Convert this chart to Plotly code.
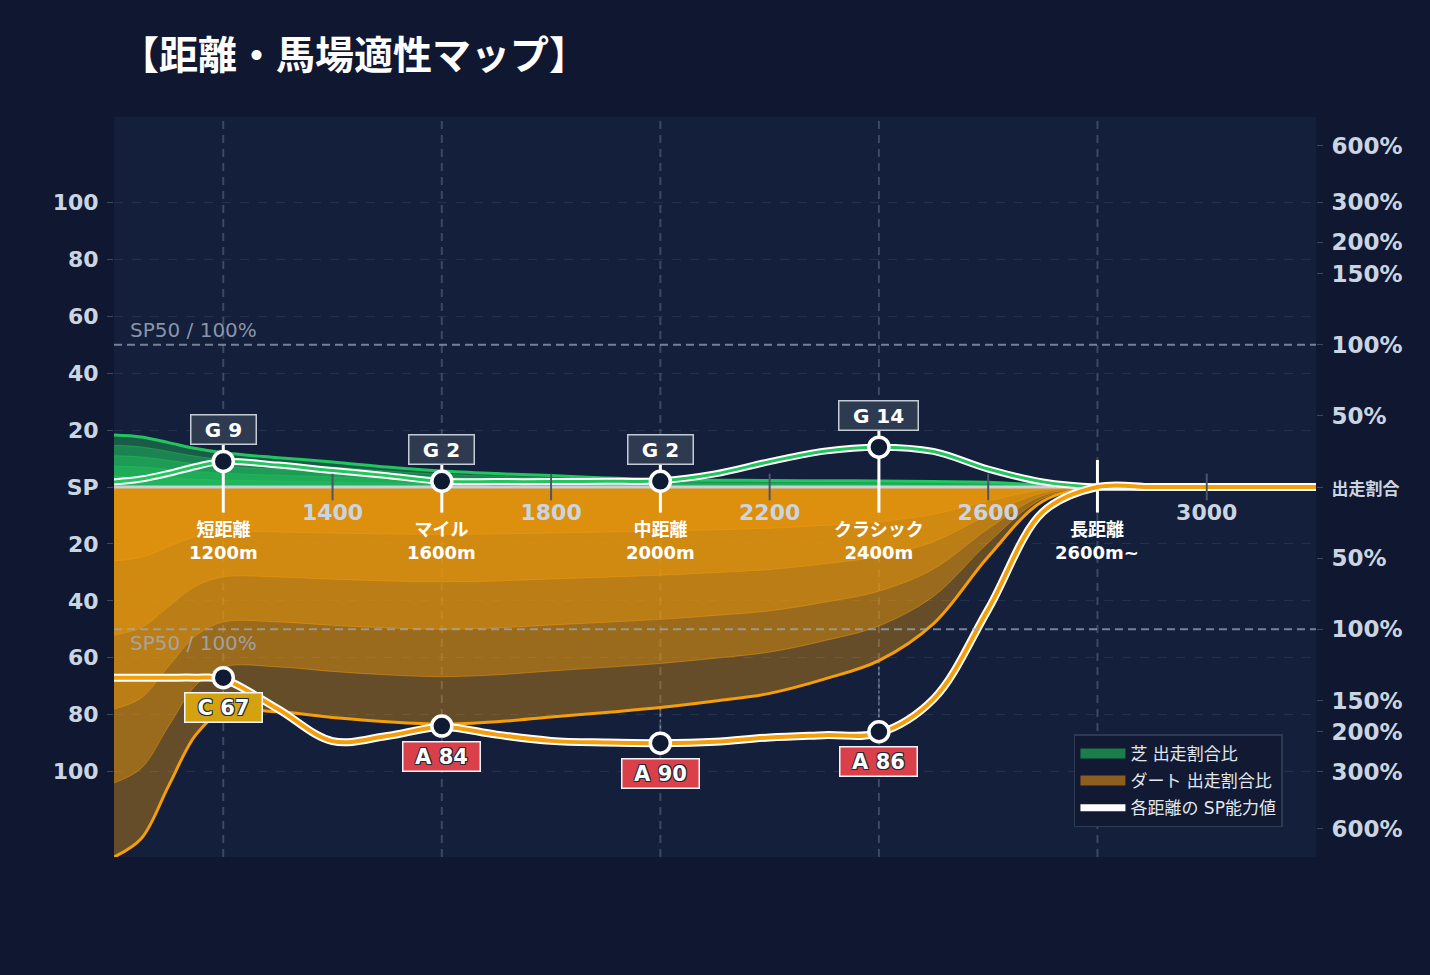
import plotly.graph_objects as go

# 距離 (m)
dist = [1000, 1050, 1100, 1150, 1200, 1300, 1400, 1500, 1600, 1700, 1800, 1900, 2000,
        2100, 2200, 2300, 2400, 2500, 2600, 2700, 2800, 2900, 3000, 3100, 3200]

# 出走割合比 (チャート単位) 芝は上側、ダートは下側
turf_share = [18.3, 17.6, 15.6, 13.5, 12.0, 10.3, 8.8, 7.0, 5.6, 4.7, 4.0, 3.2, 2.6,
              2.4, 2.3, 2.2, 2.1, 1.9, 1.7, 0.6, 0, 0, 0, 0, 0]
dirt_share = [130, 123.5, 105, 87, 79, 79, 81, 82.5, 83.3, 82.5, 80.8, 79.2, 77.5,
              75.2, 72.5, 67.5, 61, 48, 24.5, 5, 0, 0, 0, 0, 0]

# 各距離の SP能力値
turf_sp = [1.8, 2.8, 4.8, 7.2, 9, 7.7, 5.8, 4.0, 2.0, 1.9, 1.9, 2.0, 2.2,
           4.6, 8.9, 12.6, 14, 12.5, 6.3, 1.8, 0, 0, 0, 0, 0]
dirt_sp = [67, 67, 67, 67, 67.5, 78, 89.3, 87.5, 84.3, 87, 89.2, 89.8, 90,
           89.5, 88, 87.2, 86.5, 74.5, 43, 8.8, 0, 0, 0, 0, 0]

# 距離カテゴリ
zone_dist = [1200, 1600, 2000, 2400, 2800]
zone_name = ["短距離", "マイル", "中距離", "クラシック", "長距離"]
zone_label = ["1200m", "1600m", "2000m", "2400m", "2600m~"]

# カテゴリ毎の評価
turf_grade = ["G", "G", "G", "G"]
turf_point = [9, 2, 2, 14]
dirt_grade = ["C", "A", "A", "A"]
dirt_point = [67, 84, 90, 86]

# 軸
x_ticks = [1400, 1800, 2200, 2600, 3000]
sp_ticks = [100, 80, 60, 40, 20]
share_pos = [120, 100, 86, 75, 50, 25]
share_text = ["600%", "300%", "200%", "150%", "100%", "50%"]

FONT = "DejaVu Sans, Noto Sans CJK JP, sans-serif"
PAPER = "#0f1830"
PLOT_BG = "#131f3b"
GREEN = "#22c55e"
ORANGE = "#f59e0b"
GRADE_COLORS = {"G": "#2e3a50", "C": "#d4a20e", "A": "#d9404a"}
N_LAYERS = 5

fig = go.Figure()

# ダート 出走割合 (下側, 重ね塗り)
for k in range(1, N_LAYERS + 1):
    outer = k == N_LAYERS
    fig.add_trace(go.Scatter(
        x=dist, y=[-v * k / N_LAYERS for v in dirt_share],
        mode="lines", line=dict(shape="spline", width=3 if outer else 1,
                                color=ORANGE if outer else "rgba(245,158,11,0.45)"),
        fill="tozeroy", fillcolor="rgba(245,158,11,0.37)",
        showlegend=False, hoverinfo="skip"))

# 芝 出走割合 (上側)
for k in range(1, N_LAYERS + 1):
    outer = k == N_LAYERS
    fig.add_trace(go.Scatter(
        x=dist, y=[v * k / N_LAYERS for v in turf_share],
        mode="lines", line=dict(shape="spline", width=3 if outer else 1,
                                color=GREEN if outer else "rgba(34,197,94,0.45)"),
        fill="tozeroy", fillcolor="rgba(34,197,94,0.37)",
        showlegend=False, hoverinfo="skip"))

# 凡例用
fig.add_trace(go.Scatter(x=[None], y=[None], mode="lines", name="芝 出走割合比",
                         line=dict(color="#1b7d4c", width=14),
                         legendgroup="turf", legendrank=1))
fig.add_trace(go.Scatter(x=[None], y=[None], mode="lines", name="ダート 出走割合比",
                         line=dict(color="#8d5e1d", width=14),
                         legendgroup="dirt", legendrank=2))

# 基準線
fig.add_trace(go.Scatter(x=dist, y=[0] * len(dist), mode="lines",
                         line=dict(color="#c8d0dc", width=3),
                         showlegend=False, hoverinfo="skip"))

# ダート: 割合から SP点への点線
drop_x, drop_y = [], []
for d, p in zip(zone_dist, dirt_point):
    share = dirt_share[dist.index(d)]
    drop_x += [d, d, None]
    drop_y += [-share, -p, None]
fig.add_trace(go.Scatter(x=drop_x, y=drop_y, mode="lines",
                         line=dict(color="rgba(160,172,190,0.6)", width=1.5, dash="dot"),
                         showlegend=False, hoverinfo="skip"))

# x軸の目盛り (基準線上)
fig.add_trace(go.Scatter(x=x_ticks, y=[0] * len(x_ticks), mode="markers", yaxis="y2",
                         marker=dict(symbol="line-ns", size=19,
                                     line=dict(width=2, color="#4b5568")),
                         showlegend=False, hoverinfo="skip"))

# カテゴリの縦棒
stem_x, stem_y = [], []
for i, d in enumerate(zone_dist):
    top = turf_point[i] if i < len(turf_point) else 0
    stem_x += [d, d, None]
    stem_y += [top + 9.5, -9, None]
fig.add_trace(go.Scatter(x=stem_x, y=stem_y, mode="lines",
                         line=dict(color="white", width=3),
                         showlegend=False, hoverinfo="skip"))

# SP能力値ライン
fig.add_trace(go.Scatter(x=dist, y=turf_sp, mode="lines",
                         line=dict(shape="spline", color="white", width=7),
                         name="各距離の SP能力値", legendgroup="sp", legendrank=3,
                         hoverinfo="skip"))
fig.add_trace(go.Scatter(x=dist, y=turf_sp, mode="lines",
                         line=dict(shape="spline", color=GREEN, width=3),
                         showlegend=False, hoverinfo="skip"))
fig.add_trace(go.Scatter(x=dist, y=[-v for v in dirt_sp], mode="lines",
                         line=dict(shape="spline", color="white", width=8),
                         showlegend=False, hoverinfo="skip"))
fig.add_trace(go.Scatter(x=dist, y=[-v for v in dirt_sp], mode="lines",
                         line=dict(shape="spline", color=ORANGE, width=4),
                         showlegend=False, hoverinfo="skip"))

# 評価ポイント
point_marker = dict(size=20, color="#0f1a33", line=dict(color="white", width=3.5))
fig.add_trace(go.Scatter(x=zone_dist[:4], y=turf_point, mode="markers",
                         marker=point_marker, showlegend=False, hoverinfo="skip"))
fig.add_trace(go.Scatter(x=zone_dist[:4], y=[-v for v in dirt_point], mode="markers",
                         marker=point_marker, showlegend=False, hoverinfo="skip"))

# 評価ラベル
outline = ("1px 1px 0 #1e293b, -1px -1px 0 #1e293b, "
           "1px -1px 0 #1e293b, -1px 1px 0 #1e293b")
for d, g, v in zip(zone_dist, turf_grade, turf_point):
    text = f"{g} {v}"
    fig.add_annotation(x=d, y=v, yshift=32, text=f"<b>{text}</b>", showarrow=False,
                       font=dict(family=FONT, size=20, color="white"),
                       bgcolor=GRADE_COLORS[g], bordercolor="#c3cbd6", borderwidth=1.5,
                       width=14 * len(text) + 20, height=26)
for d, g, v in zip(zone_dist, dirt_grade, dirt_point):
    text = f"{g} {v}"
    fig.add_annotation(x=d, y=-v, yshift=-30, text=f"<b>{text}</b>", showarrow=False,
                       font=dict(family=FONT, size=21, color="white", shadow=outline),
                       bgcolor=GRADE_COLORS[g], bordercolor="#f1f5f9", borderwidth=1.5,
                       width=14 * len(text) + 18, height=26)

# カテゴリ名
for d, n, l in zip(zone_dist, zone_name, zone_label):
    fig.add_annotation(x=d, y=0, yshift=-54, text=f"<b>{n}</b><br><b>{l}</b>",
                       showarrow=False, font=dict(family=FONT, size=18, color="white"))

# SP50 / 100% ライン
for y, anchor, shift in [(50, "bottom", 1), (-50, "top", 0)]:
    fig.add_shape(type="line", xref="paper", x0=0, x1=1, y0=y, y1=y,
                  line=dict(color="rgba(160,172,190,0.7)", width=2, dash="8px,5px"))
    fig.add_annotation(x=dist[0], y=y, xanchor="left", yanchor=anchor, xshift=14,
                       yshift=shift, text="SP50 / 100%", showarrow=False,
                       font=dict(family=FONT, size=20, color="rgba(160,172,190,0.85)"))

# カテゴリ縦グリッド
for d in zone_dist:
    fig.add_shape(type="line", x0=d, x1=d, yref="paper", y0=0, y1=1, layer="below",
                  line=dict(color="rgba(100,116,139,0.5)", width=2, dash="8px,6px"))

tick_font = dict(family=FONT, size=22, color="#cbd5e1", weight=700)
left_vals = sp_ticks + [0] + [-v for v in sp_ticks]
left_text = [str(v) for v in sp_ticks] + ["SP"] + [str(v) for v in sp_ticks]
right_vals = share_pos + [0] + [-v for v in share_pos]
right_text = share_text + ['<span style="font-size:17px">出走割合</span>'] + share_text

fig.update_layout(
    width=1430, height=975,
    paper_bgcolor=PAPER, plot_bgcolor=PLOT_BG,
    margin=dict(l=114, r=114, t=117, b=118),
    title=dict(text="<b>【距離・馬場適性マップ】</b>", x=0.084, xanchor="left",
               y=1 - 55 / 975, yanchor="middle",
               font=dict(family="Noto Sans CJK JP", size=39, color="white")),
    xaxis=dict(range=[dist[0], dist[-1]], tickvals=x_ticks, showgrid=False,
               zeroline=False, anchor="free", position=0.5, ticks="",
               ticklabelstandoff=10, tickfont=tick_font, showline=False),
    yaxis=dict(range=[-130, 130], tickvals=left_vals, ticktext=left_text,
               showgrid=True, gridcolor="rgba(100,116,139,0.22)", griddash="dash",
               zeroline=False, ticks="outside", ticklen=6, tickcolor="#3b4860",
               tickfont=tick_font, ticklabelstandoff=4),
    yaxis2=dict(range=[-130, 130], overlaying="y", side="right",
                tickvals=right_vals, ticktext=right_text, showgrid=False,
                zeroline=False, ticks="outside", ticklen=6, tickcolor="#3b4860",
                tickfont=dict(tick_font, size=23), ticklabelstandoff=4),
    legend=dict(x=0.9725, y=0.04, xanchor="right", yanchor="bottom",
                bgcolor="#111a32", bordercolor="#2c3a52", borderwidth=1.5,
                font=dict(family=FONT, size=17, color="#e2e8f0"),
                traceorder="grouped", tracegroupgap=2, itemwidth=45),
    showlegend=True,
)

fig.write_html("out.html", config={"displayModeBar": False},
               post_script="document.body.style.margin='0px';")
